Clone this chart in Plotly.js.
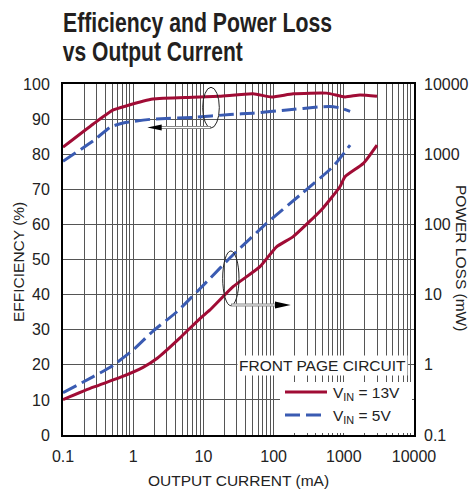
<!DOCTYPE html>
<html><head><meta charset="utf-8">
<script src="https://cdn.plot.ly/plotly-3.0.1.min.js"></script>
<style>html,body{margin:0;padding:0;background:#fff}#chart{width:472px;height:491px}</style>
</head><body><div id="chart"></div>
<script>
// ---- data ----
const xEff13 = [0.1, 0.27, 0.52, 0.81, 1.9, 7.1, 17, 51, 94, 190, 570, 1040, 1700, 2970];
const eff13  = [82.0, 88.6, 92.6, 93.8, 95.7, 96.2, 96.5, 97.2, 96.3, 97.2, 97.4, 96.3, 96.9, 96.5];
const xEff5  = [0.1, 0.27, 0.47, 0.72, 1.9, 7.1, 24, 51, 155, 460, 630, 880, 1230];
const eff5   = [78.0, 83.8, 87.7, 88.9, 90.0, 90.5, 91.3, 91.7, 92.6, 93.5, 93.6, 93.2, 92.2];
const xLoss13 = [0.1, 0.27, 0.65, 1.38, 2.2, 4.6, 9, 12.3, 26.5, 64, 110, 190, 500, 880, 1040, 1900, 2970];
const loss13  = [0.32, 0.48, 0.66, 0.92, 1.24, 2.4, 4.6, 6.0, 13, 25, 48, 67, 169, 344, 478, 741, 1350];
const xLoss5 = [0.1, 0.27, 0.47, 1, 1.9, 4.2, 11.2, 26.5, 80, 238, 700, 1230];
const loss5  = [0.40, 0.68, 0.92, 1.63, 3.0, 5.7, 15.3, 37, 104, 262, 664, 1350];

const xTickLabels = ['0.1', '1', '10', '100', '1000', '10000'];
const y2TickLabels = ['0.1', '1', '10', '100', '1000', '10000'];
const seriesNames = ['V<sub>IN</sub> = 13V', 'V<sub>IN</sub> = 5V'];
const legendTitle = 'FRONT PAGE CIRCUIT';
const titleLines = ['Efficiency and Power Loss', 'vs Output Current'];

// ---- styles ----
const RED = '#a00c35', BLUE = '#3a5bb2', GRID = '#555';
const FONT = 'Liberation Sans, Arial, sans-serif';
const TFONT = 'Liberation Sans, Arial, sans-serif';

// major ticks at decades, minor grid at every other digit
const xTickVals = xTickLabels.map(parseFloat);
const xMinorVals = [];
xTickVals.slice(0, -1).forEach(base => { for (let d = 2; d <= 9; d++) xMinorVals.push(base * d); });
const y2TickVals = y2TickLabels.map(parseFloat);

const smooth = {shape: 'spline', smoothing: 0.5, width: 3};
const traces = [
  {x: xEff13, y: eff13, mode: 'lines', name: seriesNames[0], line: Object.assign({color: RED}, smooth), yaxis: 'y'},
  {x: xEff5, y: eff5, mode: 'lines', name: seriesNames[1], line: Object.assign({color: BLUE, dash: '15px,6px'}, smooth), yaxis: 'y'},
  {x: xLoss13, y: loss13, mode: 'lines', name: seriesNames[0], line: Object.assign({color: RED}, smooth), yaxis: 'y2'},
  {x: xLoss5, y: loss5, mode: 'lines', name: seriesNames[1], line: Object.assign({color: BLUE, dash: '15px,6px'}, smooth), yaxis: 'y2'}
];

// plot area in px: x 63..414, y 84..435
const L = 63, W = 351, H = 351;
const px = v => (v - L) / W, py = v => (435 - v) / H;

const shapes = [
  // legend background (covers grid)
  {type: 'rect', xref: 'paper', yref: 'paper', x0: px(280), x1: px(412), y0: py(433), y1: py(382), fillcolor: '#fff', line: {width: 0}, layer: 'above'},
  // legend samples
  {type: 'line', xref: 'paper', yref: 'paper', x0: px(285), x1: px(327), y0: py(392), y1: py(392), line: {color: RED, width: 3}, layer: 'above'},
  {type: 'line', xref: 'paper', yref: 'paper', x0: px(285), x1: px(327), y0: py(415), y1: py(415), line: {color: BLUE, width: 3, dash: '15px,6px'}, layer: 'above'},
  // ellipse 1 (efficiency)
  {type: 'circle', xref: 'paper', yref: 'paper', x0: px(202.7), x1: px(219.3), y0: py(128), y1: py(87.3), line: {color: '#222', width: 1}},
  {type: 'line', xref: 'paper', yref: 'paper', x0: px(211), x1: px(160), y0: py(127.5), y1: py(127.5), line: {color: '#888', width: 3}},
  {type: 'line', xref: 'paper', yref: 'paper', x0: px(210), x1: px(160), y0: py(127.5), y1: py(127.5), line: {color: '#fff', width: 1}},
  {type: 'path', xref: 'paper', yref: 'paper', path: `M ${px(147.3)},${py(127.5)} L ${px(161.7)},${py(124.5)} L ${px(161.7)},${py(130.5)} Z`, fillcolor: '#000', line: {width: 0}},
  // ellipse 2 (power loss)
  {type: 'circle', xref: 'paper', yref: 'paper', x0: px(222.7), x1: px(239), y0: py(305.7), y1: py(251), line: {color: '#222', width: 1}},
  {type: 'line', xref: 'paper', yref: 'paper', x0: px(231), x1: px(277), y0: py(305), y1: py(305), line: {color: '#888', width: 3}},
  {type: 'line', xref: 'paper', yref: 'paper', x0: px(232), x1: px(277), y0: py(305), y1: py(305), line: {color: '#fff', width: 1}},
  {type: 'path', xref: 'paper', yref: 'paper', path: `M ${px(290.7)},${py(305)} L ${px(275)},${py(301.5)} L ${px(275)},${py(308.5)} Z`, fillcolor: '#000', line: {width: 0}}
];

const txt = {family: FONT, size: 15.5, color: '#222'};
const annotations = [
  {xref: 'paper', yref: 'paper', x: px(322), y: py(365), xanchor: 'center', yanchor: 'middle', text: legendTitle, showarrow: false, bgcolor: '#fff', font: txt, borderpad: 1},
  {xref: 'paper', yref: 'paper', x: px(331), y: py(393), xanchor: 'left', yanchor: 'middle', text: seriesNames[0], showarrow: false, font: txt},
  {xref: 'paper', yref: 'paper', x: px(331), y: py(416), xanchor: 'left', yanchor: 'middle', text: seriesNames[1], showarrow: false, font: txt},
  // second title line (centre of its squeezed width)
  {xref: 'paper', yref: 'paper', x: px(63 + 90), y: py(52), xanchor: 'center', yanchor: 'middle', text: titleLines[1], showarrow: false, font: {family: TFONT, size: 28, color: '#231f20', weight: 'bold'}},
  // axis titles
  {xref: 'paper', yref: 'paper', x: px(18), y: py(262), xanchor: 'center', yanchor: 'middle', text: 'EFFICIENCY (%)', textangle: -90, showarrow: false, font: txt},
  {xref: 'paper', yref: 'paper', x: px(462), y: py(258), xanchor: 'center', yanchor: 'middle', text: 'POWER LOSS (mW)', textangle: 90, showarrow: false, font: txt}
];

const axBase = {showgrid: true, gridcolor: GRID, gridwidth: 1, zeroline: false, showline: true, mirror: true, linecolor: '#000', linewidth: 2, ticks: '', tickfont: {family: FONT, size: 16, color: '#222'}};

const layout = {
  width: 472, height: 491,
  margin: {l: 63, r: 58, t: 84, b: 56, pad: 0},
  paper_bgcolor: '#fff', plot_bgcolor: '#fff',
  showlegend: false,
  font: {family: FONT, color: '#222'},
  title: {text: titleLines[0], xref: 'container', yref: 'container', x: 63 / 472, xanchor: 'left', y: 1 - 22.5 / 491, yanchor: 'middle', font: {family: TFONT, size: 28, color: '#231f20', weight: 'bold'}},
  xaxis: Object.assign({}, axBase, {type: 'log', range: [-1, 4], tickmode: 'array', tickvals: xTickVals, ticktext: xTickLabels, ticklabelstandoff: 6,
    minor: {tickmode: 'array', tickvals: xMinorVals, showgrid: true, gridcolor: GRID, gridwidth: 1, ticks: ''},
    title: {text: 'OUTPUT CURRENT (mA)', font: txt, standoff: 11}}),
  yaxis: Object.assign({}, axBase, {range: [0, 100], dtick: 10, tick0: 0, ticklabelstandoff: 8}),
  yaxis2: {type: 'log', range: [-1, 4], overlaying: 'y', side: 'right', tickmode: 'array', tickvals: y2TickVals, ticktext: y2TickLabels,
    showgrid: false, zeroline: false, showline: false, ticks: '', ticklabelstandoff: 9, tickfont: {family: FONT, size: 16, color: '#222'}},
  shapes: shapes,
  annotations: annotations
};

Plotly.newPlot('chart', traces, layout, {staticPlot: true, displayModeBar: false}).then(gd => {
  // condensed bold title, as in the reference typography
  const squeeze = (el, w) => { if (el) { el.setAttribute('textLength', w); el.setAttribute('lengthAdjust', 'spacingAndGlyphs'); } };
  squeeze(gd.querySelector('.g-gtitle text.gtitle'), 269);
  gd.querySelectorAll('.annotation-text').forEach(t => { if (t.textContent === titleLines[1]) squeeze(t, 180); });
  // drop empty placeholder text nodes that Plotly leaves behind
  gd.querySelectorAll('text').forEach(t => { if (!t.textContent.trim()) t.remove(); });
});
</script></body></html>
